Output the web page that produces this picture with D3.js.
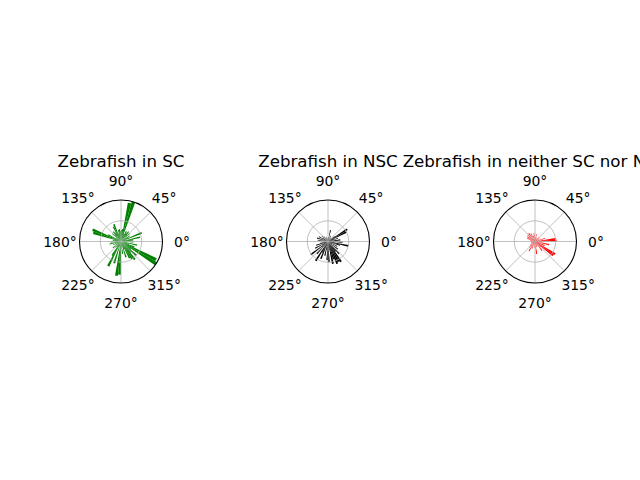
<!DOCTYPE html>
<html>
<head>
<meta charset="utf-8">
<script src="https://cdn.jsdelivr.net/npm/d3@7"></script>
<style>
  html, body { margin: 0; padding: 0; background: #fff; }
  svg { display: block; font-family: "DejaVu Sans", sans-serif; }
</style>
</head>
<body>
<svg id="chart" width="640" height="480"></svg>
<script>
// ---- data ----
const binStarts = [0,5,10,15,20,25,30,35,40,45,50,55,60,65,70,75,80,85,
                   90,95,100,105,110,115,120,125,130,135,140,145,150,155,160,165,170,175,
                   180,185,190,195,200,205,210,215,220,225,230,235,240,245,250,255,260,265,
                   270,275,280,285,290,295,300,305,310,315,320,325,330,335,340,345,350,355];
const binWidth = 5;
const titles = ["Zebrafish in SC", "Zebrafish in NSC", "Zebrafish in neither SC nor NSC"];
const colors = ["green", "black", "red"];
const scValues = [
  0.15,0.30,0.47,0.10,0.54,0.20,0.25,0.10,0.28,0.22,0.30,0.25,0.28,0.20,1.00,0.95,0.30,0.28,
  0.25,0.30,0.28,0.20,0.45,0.40,0.25,0.30,0.22,0.28,0.10,0.15,0.35,0.74,0.70,0.15,0.20,0.10,
  0.25,0.15,0.28,0.10,0.20,0.05,0.15,0.25,0.10,0.20,0.15,0.40,0.67,0.15,0.55,0.10,0.83,0.80,
  0.15,0.30,0.10,0.40,0.20,0.45,0.50,0.55,0.35,0.50,0.30,1.00,0.95,0.35,0.20,0.40,0.15,0.30];
const nscValues = [
  0.20,0.30,0.10,0.25,0.15,0.50,0.55,0.20,0.10,0.05,0.10,0.05,0.15,0.05,0.10,0.28,0.05,0.10,
  0.05,0.08,0.05,0.12,0.05,0.10,0.05,0.15,0.08,0.20,0.05,0.15,0.25,0.10,0.28,0.05,0.25,0.10,
  0.15,0.05,0.20,0.30,0.10,0.35,0.15,0.52,0.20,0.40,0.10,0.55,0.30,0.45,0.10,0.35,0.20,0.45,
  0.50,0.15,0.55,0.45,0.58,0.55,0.58,0.30,0.40,0.15,0.30,0.10,0.25,0.10,0.30,0.50,0.15,0.35];
const neitherValues = [
  0.52,0.50,0.10,0.25,0.05,0.15,0.05,0.12,0.05,0.15,0.05,0.08,0.05,0.10,0.05,0.18,0.05,0.10,
  0.05,0.20,0.05,0.15,0.05,0.22,0.08,0.25,0.05,0.24,0.10,0.22,0.05,0.20,0.05,0.12,0.05,0.08,
  0.05,0.10,0.03,0.10,0.05,0.10,0.05,0.15,0.05,0.20,0.05,0.27,0.08,0.18,0.05,0.10,0.05,0.15,
  0.05,0.30,0.08,0.15,0.05,0.12,0.05,0.28,0.10,0.20,0.55,0.57,0.10,0.25,0.05,0.35,0.10,0.20];
const seriesValues = [scValues, nscValues, neitherValues];
const angleTicks = [0,45,90,135,180,225,270,315];
const radialTicks = [0.5];
const rMax = 1.0;

// ---- layout ----
const svg = d3.select("#chart");
svg.append("rect").attr("width",640).attr("height",480).attr("fill","#fff");
const centersX = [121, 328, 535];
const cy = 241.5;
const R = 41.5;
const rScale = d3.scaleLinear().domain([0, rMax]).range([0, R]);
const toRad = d => d * Math.PI / 180;

centersX.forEach((cx, i) => {
  const g = svg.append("g").attr("transform", `translate(${cx},${cy})`);

  // bars (matplotlib angle: ccw from east; d3.arc: cw from north)
  const arc = d3.arc().innerRadius(0);
  g.selectAll("path.bar").data(binStarts.map((s, k) => ({s, v: seriesValues[i][k]})))
    .enter().append("path").attr("class","bar")
    .attr("d", d => arc({
      outerRadius: rScale(d.v),
      startAngle: Math.PI/2 - toRad(d.s + binWidth),
      endAngle: Math.PI/2 - toRad(d.s)
    }))
    .attr("fill", colors[i]);

  // grid (drawn above bars, like matplotlib default)
  angleTicks.forEach(a => {
    g.append("line")
      .attr("x1", 0).attr("y1", 0)
      .attr("x2", R * Math.cos(toRad(a))).attr("y2", -R * Math.sin(toRad(a)))
      .attr("stroke", "#b0b0b0").attr("stroke-width", 0.8);
  });
  radialTicks.forEach(t => {
    g.append("circle").attr("r", rScale(t)).attr("fill","none")
      .attr("stroke", "#b0b0b0").attr("stroke-width", 0.8);
  });
  // outer spine
  g.append("circle").attr("r", R).attr("fill","none")
    .attr("stroke","#000").attr("stroke-width",1.1);

  // angle labels
  const lr = R + 19.5;
  angleTicks.forEach(a => {
    g.append("text")
      .attr("x", lr * Math.cos(toRad(a)))
      .attr("y", -lr * Math.sin(toRad(a)))
      .attr("text-anchor","middle")
      .attr("dy","0.36em")
      .attr("font-size","13.9px")
      .attr("fill","#000")
      .text(a + "°");
  });

  // title
  svg.append("text")
    .attr("x", cx).attr("y", 167)
    .attr("text-anchor","middle")
    .attr("font-size","16.67px")
    .attr("fill","#000")
    .text(titles[i]);
});
</script>
</body>
</html>
